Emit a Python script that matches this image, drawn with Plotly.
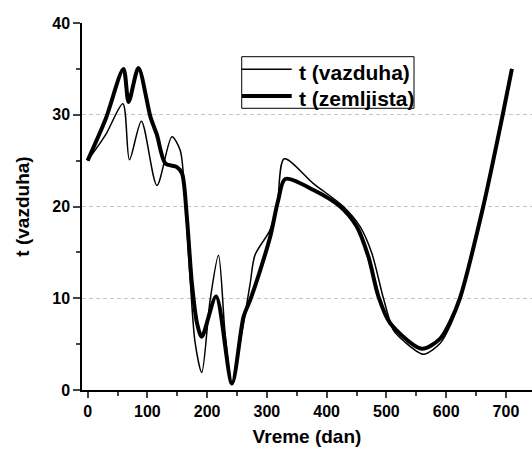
import plotly.graph_objects as go

# Vreme (dan) / t (vazduha) — thin series
air_x = [0, 30, 59, 70, 90, 116, 141, 155, 163, 172, 180, 191, 205, 219, 230, 241.5,
         258, 272, 280, 305, 317, 329, 378, 428, 456, 475.6, 495, 512, 528, 562, 590,
         608, 623, 662, 694.6, 710]
air_y = [25, 27.8, 31.2, 25.1, 29.3, 22.3, 27.6, 26.1, 20.7, 11.6, 5.1, 1.9, 9.8, 14.7, 6.2, 0.7,
         6.2, 11.6, 14.7, 17.4, 20, 25.2, 22.5, 20, 17.8, 14.9, 10, 6.5, 5.4, 3.9, 5.1,
         7.2, 10, 20, 30, 35]

# t (zemljista) — thick series
soil_x = [0, 30, 60, 68.6, 85, 105, 116, 130, 149.5, 158, 166, 174.5, 183, 191, 215, 241.5,
          261, 272, 289, 305.5, 319, 330.6, 378, 422.6, 450.5, 470, 486.6, 506, 559, 590,
          606.5, 623, 662, 694.6, 710]
soil_y = [25, 29.5, 35, 31.4, 35.1, 29.8, 27.8, 24.7, 24.3, 23.6, 18.9, 11.6, 7.3, 5.8, 10.2, 0.7,
          8, 9.8, 13.1, 16.7, 20.7, 23, 21.8, 20, 17.8, 14.5, 10.2, 7.3, 4.5, 5.6,
          7.4, 10, 20, 30, 35]

series_names = ["t (vazduha)", "t (zemljista)"]
x_ticks = [0, 100, 200, 300, 400, 500, 600, 700]
y_ticks = [0, 10, 20, 30, 40]

FONT = "Arial, Liberation Sans, sans-serif"
widths = [1.5, 4]

fig = go.Figure()
for xs, ys, name, w in zip([air_x, soil_x], [air_y, soil_y], series_names, widths):
    fig.add_trace(go.Scatter(x=xs, y=ys, mode="lines", name=name, showlegend=False,
                             line=dict(color="black", width=w, shape="spline", smoothing=0.8)))

# hand-drawn legend box (paper coordinates), matching the reference layout
fig.add_shape(type="rect", xref="paper", yref="paper", x0=0.3549, x1=0.7378, y0=0.7676, y1=0.9082,
              line=dict(color="black", width=1), fillcolor="white", layer="above")
for i, (name, w) in enumerate(zip(series_names, widths)):
    ly = [0.8738, 0.8011][i]
    ty = [0.8651, 0.7956][i]
    fig.add_shape(type="line", xref="paper", yref="paper", x0=0.3556, x1=0.466, y0=ly, y1=ly,
                  line=dict(color="black", width=w), layer="above")
    fig.add_annotation(xref="paper", yref="paper", x=0.4771, y=ty, xanchor="left", yanchor="middle",
                       text=f"<b>{name}</b>", showarrow=False, font=dict(size=21, family=FONT, color="black"))

fig.update_layout(
    width=532, height=449,
    margin=dict(l=82, r=0, t=23, b=59),
    paper_bgcolor="white", plot_bgcolor="white",
    font=dict(family=FONT, color="black"),
    showlegend=False,
    xaxis=dict(range=[-9.4, 743.6], tickvals=x_ticks, ticktext=[f"<b>{v}</b>" for v in x_ticks],
               ticks="outside", ticklen=6, tickwidth=1.5,
               showline=True, linecolor="black", linewidth=1.5, showgrid=False, zeroline=False,
               tickfont=dict(size=16, family=FONT),
               minor=dict(ticks="outside", ticklen=4, tickwidth=1.5, dtick=50, showgrid=False),
               title=dict(text="<b>Vreme (dan)</b>", font=dict(size=19, family=FONT), standoff=11)),
    yaxis=dict(range=[0, 40], tickvals=y_ticks, ticktext=[f"<b>{v}</b>" for v in y_ticks],
               ticks="outside", ticklen=7, tickwidth=1.5,
               showline=True, linecolor="black", linewidth=1.5,
               showgrid=True, gridcolor="#c4c4c4", griddash="4px,3px", gridwidth=1, zeroline=False,
               tickfont=dict(size=16, family=FONT),
               minor=dict(ticks="outside", ticklen=4, tickwidth=1.5, dtick=5, showgrid=False),
               title=dict(text="<b>t (vazduha)</b>", font=dict(size=19, family=FONT), standoff=18)),
)

fig.write_html("out.html", config={"displayModeBar": False},
               post_script="document.body.style.margin='0';")
